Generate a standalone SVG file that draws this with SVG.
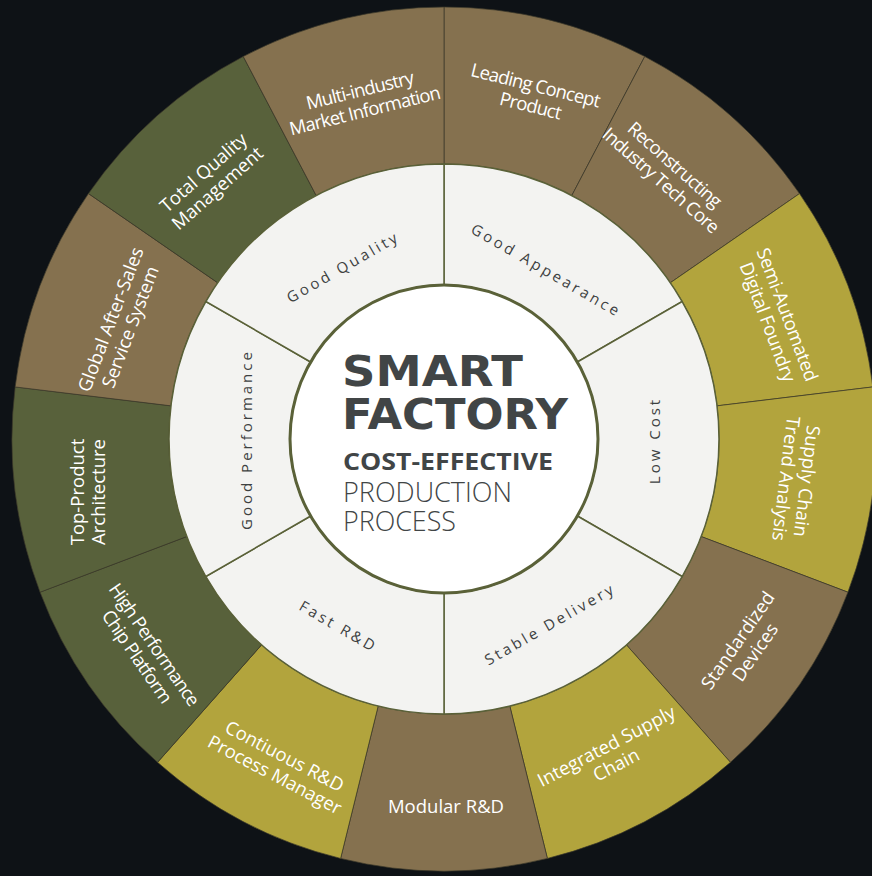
<svg xmlns="http://www.w3.org/2000/svg" width="872" height="876" viewBox="0 0 872 876">
<defs>
<style>
.bg{fill:#0e1216}
.brown{fill:#85714f}
.olive{fill:#58613b}
.mustard{fill:#b2a43d}
.seg{stroke:#3a3829;stroke-width:1;stroke-opacity:0.7}
.in{fill:#f3f3f1;stroke:#5a6138;stroke-width:1.5}
.ol{font-family:"Open Sans","Noto Sans","Liberation Sans",sans-serif;font-size:18.5px;fill:#ffffff;text-anchor:middle}
.tight{letter-spacing:-0.8px}
.il{font-family:"Open Sans","Noto Sans","Liberation Sans",sans-serif;font-size:15px;letter-spacing:3px;fill:#3d4141;text-anchor:middle}
.ct{fill:#414546}
</style>
</defs>
<rect class="bg" x="0" y="0" width="872" height="876"/>

<g id="outer-ring">
<g id="leading-concept">
<path class="brown seg" d="M444,164 L444,7 A432,432 0 0 1 644.76,56.48 L571.80,195.50 A275,275 0 0 0 444,164 Z"/>
<g transform="translate(533,95) rotate(13.85)"><text class="ol tight" y="-3.5">Leading Concept</text><text class="ol tight" y="17.5">Product</text></g>
</g>
<g id="reconstructing">
<path class="brown seg" d="M571.80,195.50 L644.76,56.48 A432,432 0 0 1 799.53,193.60 L670.32,282.78 A275,275 0 0 0 571.80,195.50 Z"/>
<g transform="translate(668,172) rotate(41.5)"><text class="ol tight" y="-3.5">Reconstructing</text><text class="ol tight" y="17.5">Industry Tech Core</text></g>
</g>
<g id="semi-automated">
<path class="mustard seg" d="M670.32,282.78 L799.53,193.60 A432,432 0 0 1 872.85,386.93 L717.00,405.85 A275,275 0 0 0 670.32,282.78 Z"/>
<g transform="translate(778,318) rotate(69.2)"><text class="ol" y="-3.5" style="letter-spacing:-0.3px">Semi-Automated</text><text class="ol" y="17.5" style="letter-spacing:-0.3px">Digital Foundry</text></g>
</g>
<g id="supply-chain-trend">
<path class="mustard seg" d="M717.00,405.85 L872.85,386.93 A432,432 0 0 1 847.93,592.19 L701.13,536.52 A275,275 0 0 0 717.00,405.85 Z"/>
<g transform="translate(797,480) rotate(96.9)"><text class="ol" y="-3.5">Supply Chain</text><text class="ol" y="17.5">Trend Analysis</text></g>
</g>
<g id="standardized-devices">
<path class="brown seg" d="M701.13,536.52 L847.93,592.19 A432,432 0 0 1 730.47,762.36 L626.36,644.84 A275,275 0 0 0 701.13,536.52 Z"/>
<g transform="translate(746,646) rotate(-55.4)"><text class="ol" y="-3.5">Standardized</text><text class="ol" y="17.5">Devices</text></g>
</g>
<g id="integrated-supply-chain">
<path class="mustard seg" d="M626.36,644.84 L730.47,762.36 A432,432 0 0 1 547.39,858.45 L509.81,706.01 A275,275 0 0 0 626.36,644.84 Z"/>
<g transform="translate(611,755) rotate(-27.7)"><text class="ol" y="-3.5">Integrated Supply</text><text class="ol" y="17.5">Chain</text></g>
</g>
<g id="modular-rd">
<path class="brown seg" d="M509.81,706.01 L547.39,858.45 A432,432 0 0 1 340.61,858.45 L378.19,706.01 A275,275 0 0 0 509.81,706.01 Z"/>
<g transform="translate(446,806)"><text class="ol" y="6.5">Modular R&amp;D</text></g>
</g>
<g id="continuous-rd">
<path class="mustard seg" d="M378.19,706.01 L340.61,858.45 A432,432 0 0 1 157.53,762.36 L261.64,644.84 A275,275 0 0 0 378.19,706.01 Z"/>
<g transform="translate(280,765) rotate(27.7)"><text class="ol" y="-3.5">Contiuous R&amp;D</text><text class="ol" y="17.5">Process Manager</text></g>
</g>
<g id="high-performance-chip">
<path class="olive seg" d="M261.64,644.84 L157.53,762.36 A432,432 0 0 1 40.07,592.19 L186.87,536.52 A275,275 0 0 0 261.64,644.84 Z"/>
<g transform="translate(146,650) rotate(55.4)"><text class="ol tight" y="-3.5">High Performance</text><text class="ol tight" y="17.5">Chip Platform</text></g>
</g>
<g id="top-product">
<path class="olive seg" d="M186.87,536.52 L40.07,592.19 A432,432 0 0 1 15.15,386.93 L171.00,405.85 A275,275 0 0 0 186.87,536.52 Z"/>
<g transform="translate(87,492) rotate(-90)"><text class="ol" y="-3.5">Top-Product</text><text class="ol" y="17.5">Architecture</text></g>
</g>
<g id="global-after-sales">
<path class="brown seg" d="M171.00,405.85 L15.15,386.93 A432,432 0 0 1 88.47,193.60 L217.68,282.78 A275,275 0 0 0 171.00,405.85 Z"/>
<g transform="translate(120,323) rotate(-69.2)"><text class="ol" y="-3.5">Global After-Sales</text><text class="ol" y="17.5">Service System</text></g>
</g>
<g id="total-quality">
<path class="olive seg" d="M217.68,282.78 L88.47,193.60 A432,432 0 0 1 243.24,56.48 L316.20,195.50 A275,275 0 0 0 217.68,282.78 Z"/>
<g transform="translate(210,180) rotate(-41.5)"><text class="ol" y="-3.5">Total Quality</text><text class="ol" y="17.5">Management</text></g>
</g>
<g id="multi-industry">
<path class="brown seg" d="M316.20,195.50 L243.24,56.48 A432,432 0 0 1 444,7 L444,164 A275,275 0 0 0 316.20,195.50 Z"/>
<g transform="translate(362,100) rotate(-13.85)"><text class="ol tight" y="-3.5">Multi-industry</text><text class="ol tight" y="17.5">Market Information</text></g>
</g>
</g>

<g id="inner-ring">
<g id="good-appearance">
<path class="in" d="M444,285 L444,164 A275,275 0 0 1 682.16,301.5 L577.37,362 A154,154 0 0 0 444,285 Z"/>
<g transform="translate(545,270) rotate(30)"><text class="il" x="1.5" y="5">Good Appearance</text></g>
</g>
<g id="low-cost">
<path class="in" d="M577.37,362 L682.16,301.5 A275,275 0 0 1 682.16,576.5 L577.37,516 A154,154 0 0 0 577.37,362 Z"/>
<g transform="translate(655,442) rotate(-90)"><text class="il" x="1.5" y="5">Low Cost</text></g>
</g>
<g id="stable-delivery">
<path class="in" d="M577.37,516 L682.16,576.5 A275,275 0 0 1 444,714 L444,593 A154,154 0 0 0 577.37,516 Z"/>
<g transform="translate(549,625) rotate(-30)"><text class="il" x="1.5" y="5">Stable Delivery</text></g>
</g>
<g id="fast-rd">
<path class="in" d="M444,593 L444,714 A275,275 0 0 1 205.84,576.5 L310.63,516 A154,154 0 0 0 444,593 Z"/>
<g transform="translate(337,626) rotate(30)"><text class="il" x="1.5" y="5">Fast R&amp;D</text></g>
</g>
<g id="good-performance">
<path class="in" d="M310.63,516 L205.84,576.5 A275,275 0 0 1 205.84,301.5 L310.63,362 A154,154 0 0 0 310.63,516 Z"/>
<g transform="translate(247,441) rotate(-90)"><text class="il" x="1.5" y="5">Good Performance</text></g>
</g>
<g id="good-quality">
<path class="in" d="M310.63,362 L205.84,301.5 A275,275 0 0 1 444,164 L444,285 A154,154 0 0 0 310.63,362 Z"/>
<g transform="translate(342,268) rotate(-30)"><text class="il" x="1.5" y="5">Good Quality</text></g>
</g>
</g>

<g id="connectors"></g>

<g id="center">
<circle cx="444" cy="439" r="154" fill="#ffffff" stroke="#5a6138" stroke-width="3"/>
<text class="ct" x="342" y="385.5" font-family="'DejaVu Sans','Liberation Sans',sans-serif" font-weight="700" font-size="42.5" textLength="181" lengthAdjust="spacingAndGlyphs">SMART</text>
<text class="ct" x="342" y="429" font-family="'DejaVu Sans','Liberation Sans',sans-serif" font-weight="700" font-size="42.5" textLength="226" lengthAdjust="spacingAndGlyphs">FACTORY</text>
<text class="ct" x="343" y="470" font-family="'Open Sans','Liberation Sans',sans-serif" font-weight="700" font-size="24" textLength="210" lengthAdjust="spacingAndGlyphs">COST-EFFECTIVE</text>
<text class="ct" x="343" y="501.5" font-family="'Open Sans','Liberation Sans',sans-serif" font-weight="300" font-size="27" textLength="169" lengthAdjust="spacingAndGlyphs">PRODUCTION</text>
<text class="ct" x="343" y="531" font-family="'Open Sans','Liberation Sans',sans-serif" font-weight="300" font-size="27" textLength="113" lengthAdjust="spacingAndGlyphs">PROCESS</text>
</g>
</svg>
